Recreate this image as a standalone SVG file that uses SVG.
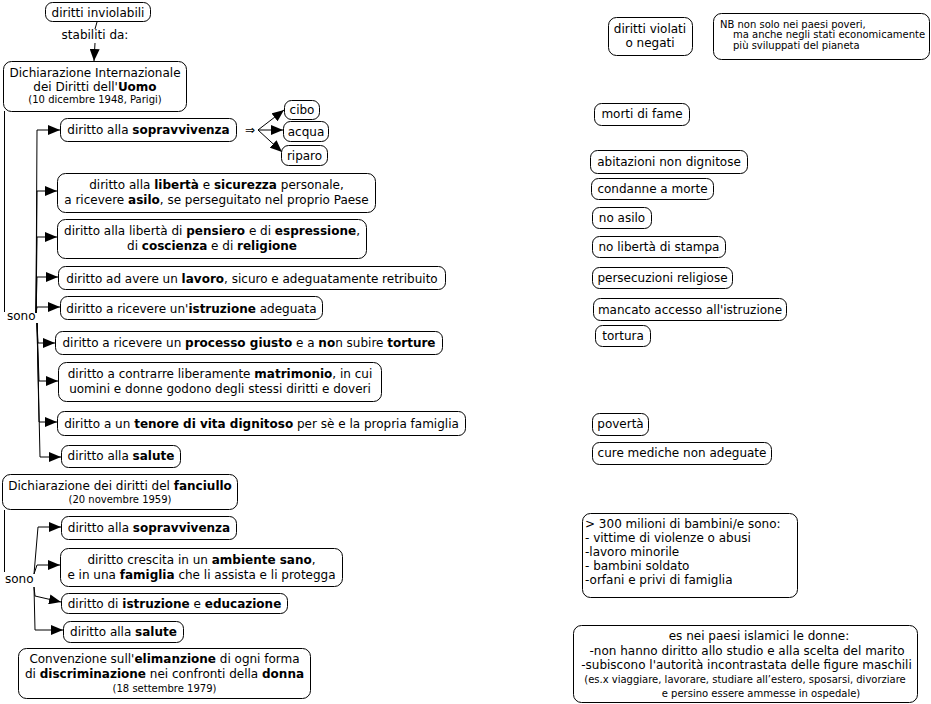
<svg xmlns="http://www.w3.org/2000/svg" width="931" height="704" viewBox="0 0 931 704">
<style>
rect{fill:#fff;stroke:#000;stroke-width:1}
text{font-family:"DejaVu Sans",Verdana,sans-serif;font-size:12px;fill:#000}
.m{text-anchor:middle}
.s{font-size:10px}
.b{font-weight:bold}
.cn path{fill:none;stroke:#000;stroke-width:1}
.cn .a{marker-end:url(#ar)}
</style>
<defs>
<marker id="ar" viewBox="0 0 12 10" refX="12" refY="5" markerWidth="12" markerHeight="10" markerUnits="userSpaceOnUse" orient="auto">
<path d="M0,0 L12,5 L0,10 z" fill="#000"/>
</marker>
</defs>
<rect x="0" y="0" width="931" height="704" style="fill:#fff;stroke:none"/>
<g class="cn" id="connectors">
<path d="M97,22 L95,29"/>
<path class="a" d="M95,43 L94,61"/>
<path d="M4.5,111 L4.5,312"/>
<path class="a" d="M36,313 L37,130 L60,130"/>
<path class="a" d="M36,313 L37,191 L57,191"/>
<path class="a" d="M36,313 L37,237 L57,237"/>
<path class="a" d="M36,313 L37,277 L58,277"/>
<path class="a" d="M36,313 L37,307 L60,307"/>
<path class="a" d="M37,323 L38,343 L55,343"/>
<path class="a" d="M37,323 L39,381 L58,381"/>
<path class="a" d="M37,323 L39,422 L57,422"/>
<path class="a" d="M37,323 L40,457 L61,457"/>
<path class="a" d="M258,130 L284,110"/>
<path class="a" d="M258,130 L283,130"/>
<path class="a" d="M258,130 L282,152"/>
<path d="M4.5,510 L4.5,572"/>
<path class="a" d="M34,574 L38,527 L61,527"/>
<path class="a" d="M34,574 L37,565 L60,565"/>
<path class="a" d="M34,587 L35,596 L61,602"/>
<path class="a" d="M34,587 L35,630 L63,630"/>
</g>
<g id="lbl-stabiliti"><text class="m" x="95" y="39">stabiliti da:</text></g>
<g id="lbl-sono1"><text x="7" y="320">sono</text></g>
<g id="lbl-sono2"><text x="5" y="583">sono</text></g>
<g id="lbl-implies"><text class="m" x="250" y="134">⇒</text></g>

<g id="n-inviolabili"><rect x="45.5" y="2.5" width="105" height="19" rx="7"/><text class="m" x="98" y="16.5">diritti inviolabili</text></g>
<g id="n-dudu"><rect x="3.5" y="61.5" width="183" height="50" rx="8"/>
<text class="m" x="95" y="77">Dichiarazione Internazionale</text>
<text class="m" x="95" y="91">dei Diritti dell'<tspan class="b">Uomo</tspan></text>
<text class="m s" x="95" y="103">(10 dicembre 1948, Parigi)</text></g>
<g id="n-sopr1"><rect x="60.5" y="118.5" width="176" height="23" rx="7"/><text class="m" x="148.5" y="134">diritto alla <tspan class="b">sopravvivenza</tspan></text></g>
<g id="n-cibo"><rect x="284.5" y="100.5" width="35" height="19" rx="7"/><text class="m" x="302" y="114">cibo</text></g>
<g id="n-acqua"><rect x="283.5" y="121.5" width="45" height="20" rx="7"/><text class="m" x="306" y="135.5">acqua</text></g>
<g id="n-riparo"><rect x="281.5" y="145.5" width="46" height="20" rx="7"/><text class="m" x="304.5" y="159.5">riparo</text></g>
<g id="n-liberta"><rect x="57.5" y="173.5" width="318" height="39" rx="8"/>
<text class="m" x="216.5" y="189">diritto alla <tspan class="b">libertà</tspan> e <tspan class="b">sicurezza</tspan> personale,</text>
<text class="m" x="216.5" y="204">a ricevere <tspan class="b">asilo</tspan>, se perseguitato nel proprio Paese</text></g>
<g id="n-pensiero"><rect x="57.5" y="219.5" width="309" height="39" rx="8"/>
<text class="m" x="212" y="235">diritto alla libertà di <tspan class="b">pensiero</tspan> e di <tspan class="b">espressione</tspan>,</text>
<text class="m" x="212" y="250">di <tspan class="b">coscienza</tspan> e di <tspan class="b">religione</tspan></text></g>
<g id="n-lavoro"><rect x="58.5" y="266.5" width="387" height="23" rx="7"/><text class="m" x="252" y="282.5">diritto ad avere un <tspan class="b">lavoro</tspan>, sicuro e adeguatamente retribuito</text></g>
<g id="n-istruzione1"><rect x="60.5" y="296.5" width="262" height="23" rx="7"/><text class="m" x="191.5" y="312.5">diritto a ricevere un'<tspan class="b">istruzione</tspan> adeguata</text></g>
<g id="n-processo"><rect x="55.5" y="331.5" width="387" height="23" rx="7"/><text class="m" x="249" y="347">diritto a ricevere un <tspan class="b">processo giusto</tspan> e a <tspan class="b">no</tspan>n subire <tspan class="b">torture</tspan></text></g>
<g id="n-matrimonio"><rect x="58.5" y="362.5" width="323" height="39" rx="8"/>
<text class="m" x="220" y="378">diritto a contrarre liberamente <tspan class="b">matrimonio</tspan>, in cui</text>
<text class="m" x="220" y="393">uomini e donne godono degli stessi diritti e doveri</text></g>
<g id="n-tenore"><rect x="57.5" y="411.5" width="408" height="24" rx="7"/><text class="m" x="261.5" y="427.5">diritto a un <tspan class="b">tenore di vita dignitoso</tspan> per sè e la propria famiglia</text></g>
<g id="n-salute1"><rect x="61.5" y="445.5" width="119" height="22" rx="7"/><text class="m" x="121" y="460">diritto alla <tspan class="b">salute</tspan></text></g>

<g id="n-fanciullo"><rect x="2.5" y="474.5" width="235" height="35" rx="8"/>
<text class="m" x="120" y="490">Dichiarazione dei diritti del <tspan class="b">fanciullo</tspan></text>
<text class="m s" x="120" y="503">(20 novembre 1959)</text></g>
<g id="n-sopr2"><rect x="61.5" y="516.5" width="175" height="23" rx="7"/><text class="m" x="149" y="532">diritto alla <tspan class="b">sopravvivenza</tspan></text></g>
<g id="n-ambiente"><rect x="60.5" y="548.5" width="282" height="38" rx="8"/>
<text class="m" x="201.5" y="564">diritto crescita in un <tspan class="b">ambiente sano</tspan>,</text>
<text class="m" x="201.5" y="579">e in una <tspan class="b">famiglia</tspan> che li assista e li protegga</text></g>
<g id="n-istruzione2"><rect x="61.5" y="593.5" width="226" height="20" rx="7"/><text class="m" x="174.5" y="607.5">diritto di <tspan class="b">istruzione</tspan> e <tspan class="b">educazione</tspan></text></g>
<g id="n-salute2"><rect x="63.5" y="621.5" width="120" height="21" rx="7"/><text class="m" x="123.5" y="636">diritto alla <tspan class="b">salute</tspan></text></g>
<g id="n-convenzione"><rect x="18.5" y="648.5" width="292" height="50" rx="8"/>
<text class="m" x="164.5" y="663">Convenzione sull'<tspan class="b">elimanzione</tspan> di ogni forma</text>
<text class="m" x="164.5" y="678">di <tspan class="b">discriminazione</tspan> nei confronti della <tspan class="b">donna</tspan></text>
<text class="m s" x="164.5" y="692">(18 settembre 1979)</text></g>

<g id="n-violati"><rect x="608.5" y="17.5" width="84" height="38" rx="8"/>
<text class="m" x="650" y="32.5">diritti violati</text>
<text class="m" x="650" y="46.5">o negati</text></g>
<g id="n-nb"><rect x="713.5" y="13.5" width="216" height="46" rx="8"/>
<text class="s" x="720" y="27.5">NB non solo nei paesi poveri,</text>
<text class="s" x="733" y="38">ma anche negli stati economicamente</text>
<text class="s" x="733" y="48.5">più sviluppati del pianeta</text></g>
<g id="n-morti"><rect x="594.5" y="103.5" width="95" height="22" rx="7"/><text class="m" x="642" y="118">morti di fame</text></g>
<g id="n-abitazioni"><rect x="590.5" y="150.5" width="157" height="23" rx="7"/><text class="m" x="669" y="166">abitazioni non dignitose</text></g>
<g id="n-condanne"><rect x="591.5" y="178.5" width="122" height="21" rx="7"/><text class="m" x="652.5" y="193">condanne a morte</text></g>
<g id="n-noasilo"><rect x="592.5" y="207.5" width="59" height="21" rx="7"/><text class="m" x="622" y="222">no asilo</text></g>
<g id="n-nostampa"><rect x="592.5" y="236.5" width="133" height="21" rx="7"/><text class="m" x="659" y="251">no libertà di stampa</text></g>
<g id="n-persecuzioni"><rect x="592.5" y="267.5" width="140" height="21" rx="7"/><text class="m" x="662.5" y="282">persecuzioni religiose</text></g>
<g id="n-mancato"><rect x="593.5" y="298.5" width="193" height="22" rx="7"/><text class="m" x="690" y="313.5">mancato accesso all'istruzione</text></g>
<g id="n-tortura"><rect x="595.5" y="325.5" width="55" height="21" rx="7"/><text class="m" x="623" y="340">tortura</text></g>
<g id="n-poverta"><rect x="592.5" y="413.5" width="56" height="22" rx="7"/><text class="m" x="620.5" y="428">povertà</text></g>
<g id="n-cure"><rect x="592.5" y="442.5" width="179" height="22" rx="7"/><text class="m" x="682" y="457">cure mediche non adeguate</text></g>
<g id="n-bambini"><rect x="582.5" y="513.5" width="215" height="84" rx="8"/>
<text x="585" y="528">&gt; 300 milioni di bambini/e sono:</text>
<text x="585" y="542">- vittime di violenze o abusi</text>
<text x="585" y="556">-lavoro minorile</text>
<text x="585" y="570">- bambini soldato</text>
<text x="585" y="584">-orfani e privi di famiglia</text></g>
<g id="n-islamici"><rect x="573.5" y="625.5" width="344" height="77" rx="8"/>
<text class="m" x="759" y="640">es nei paesi islamici le donne:</text>
<text class="m" x="747" y="655">-non hanno diritto allo studio e alla scelta del marito</text>
<text class="m" x="746.5" y="669">-subiscono l'autorità incontrastata delle figure maschili</text>
<text class="m s" x="745" y="683">(es.x viaggiare, lavorare, studiare all’estero, sposarsi, divorziare</text>
<text class="m s" x="761" y="697">e persino essere ammesse in ospedale)</text></g>
</svg>
